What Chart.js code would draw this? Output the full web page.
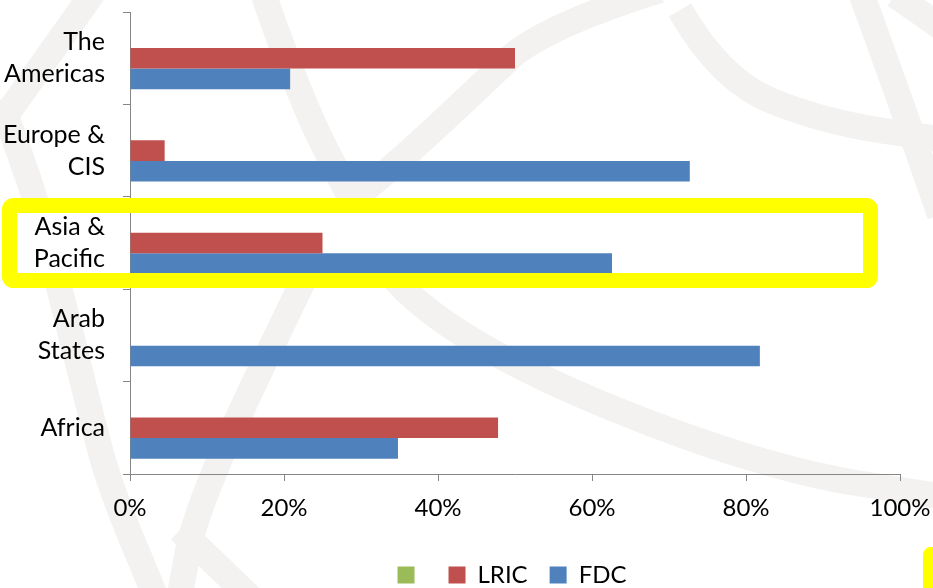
<!DOCTYPE html>
<html>
<head>
<meta charset="utf-8">
<script src="https://cdn.jsdelivr.net/npm/chart.js@4"></script>
<style>
  html, body { margin: 0; padding: 0; background: #fff; }
  #wrap { width: 933px; height: 588px; }
</style>
</head>
<body>
<div id="wrap"><canvas id="chart" width="933" height="588"></canvas></div>
<script>
const regions = [["The", "Americas"], ["Europe &", "CIS"], ["Asia &", "Pacific"], ["Arab", "States"], "Africa"]
const otherValues = [0, 0, 0, 0, 0]
const lricValues = [50, 4.5, 25, 0, 47.8]
const fdcValues = [20.8, 72.7, 62.6, 81.8, 34.8]
const xTicks = [0, 20, 40, 60, 80, 100]

const fontName = "Lato, 'Open Sans', sans-serif"

// faint watermark curves behind the chart
const waves = [
    [[262, -10], [300, 100], [352, 200], [392, 290], [536, 380], [774, 470], [945, 497]],
    [[660, -10], [542, 27], [473, 93], [401, 160], [340, 210], [298, 290], [196, 507], [179, 600]],
    [[0, 100], [33, 187], [60, 290], [90, 412], [110, 487], [157, 600]],
    [[95, -10], [0, 124]],
    [[180, 530], [253, 600]],
    [[680, 10], [720, 80], [824, 122], [945, 140]],
    [[860, -10], [900, 100], [940, 215]],
    [[895, -5], [945, 30]]
]

function smoothPath(ctx, pts) {
    ctx.beginPath()
    ctx.moveTo(pts[0][0], pts[0][1])
    if (pts.length === 2) {
        ctx.lineTo(pts[1][0], pts[1][1])
        return
    }
    for (let i = 1; i < pts.length - 1; i++) {
        const mx = (pts[i][0] + pts[i + 1][0]) / 2
        const my = (pts[i][1] + pts[i + 1][1]) / 2
        ctx.quadraticCurveTo(pts[i][0], pts[i][1], mx, my)
    }
    const last = pts[pts.length - 1]
    ctx.lineTo(last[0], last[1])
}

function roundRect(ctx, x, y, w, h, r) {
    ctx.beginPath()
    ctx.moveTo(x + r, y)
    ctx.arcTo(x + w, y, x + w, y + h, r)
    ctx.arcTo(x + w, y + h, x, y + h, r)
    ctx.arcTo(x, y + h, x, y, r)
    ctx.arcTo(x, y, x + w, y, r)
    ctx.closePath()
}

const highlightIndex = 2

const decor = {
    id: "decor",
    afterLayout(chart) {
        // legend sits roughly centred under the plot area, not the whole canvas
        const shift = (chart.chartArea.left + chart.chartArea.right) / 2 - (chart.legend.left + chart.legend.right) / 2 - 3
        chart.legend.left += shift
        chart.legend.right += shift
    },
    beforeDraw(chart) {
        const ctx = chart.ctx
        ctx.save()
        ctx.fillStyle = "#fff"
        ctx.fillRect(0, 0, chart.width, chart.height)
        ctx.strokeStyle = "#f3f2f1"
        ctx.lineWidth = 26
        ctx.lineJoin = "round"
        waves.forEach(w => { smoothPath(ctx, w); ctx.stroke() })
        // white inside of the highlight box
        const cy = chart.scales.y.getPixelForValue(highlightIndex)
        ctx.fillStyle = "#fff"
        ctx.fillRect(9, cy - 38, 862, 76)
        ctx.restore()
    },
    afterDraw(chart) {
        const ctx = chart.ctx
        const cy = chart.scales.y.getPixelForValue(highlightIndex)
        ctx.save()
        ctx.strokeStyle = "#ffff00"
        ctx.lineWidth = 15
        roundRect(ctx, 9.5, cy - 37.5, 861, 75, 4)
        ctx.stroke()
        // corner of another box at the bottom right
        ctx.fillStyle = "#ffff00"
        roundRect(ctx, 923, 547, 40, 60, 8)
        ctx.fill()
        ctx.restore()
    }
}

const ctx = document.getElementById("chart").getContext("2d")
new Chart(ctx, {
    type: "bar",
    data: {
        labels: regions,
        datasets: [
            { label: "", data: otherValues, backgroundColor: "#9BBB59" },
            { label: "LRIC", data: lricValues, backgroundColor: "#C0504D" },
            { label: "FDC", data: fdcValues, backgroundColor: "#4F81BD" }
        ]
    },
    options: {
        indexAxis: "y",
        responsive: false,
        animation: false,
        maintainAspectRatio: false,
        datasets: {
            bar: { categoryPercentage: 0.67, barPercentage: 1, borderWidth: 0 }
        },
        layout: { padding: { top: 12, right: 33, left: 0, bottom: -9 } },
        plugins: {
            tooltip: { enabled: false },
            legend: {
                position: "bottom",
                labels: {
                    color: "#000",
                    font: { family: fontName, size: 24 },
                    boxWidth: 17,
                    boxHeight: 17,
                    padding: 22
                }
            }
        },
        scales: {
            x: {
                min: 0,
                max: 100,
                afterBuildTicks: axis => { axis.ticks = xTicks.map(v => ({ value: v })) },
                afterFit: axis => {
                    axis.height = 67
                    axis.paddingLeft = 0
                    axis.paddingRight = 0
                },
                border: { color: "#868686", width: 1 },
                grid: { drawOnChartArea: false, color: "#868686", tickLength: 7 },
                ticks: {
                    color: "#000",
                    padding: 13,
                    maxRotation: 0,
                    font: { family: fontName, size: 24 },
                    callback: v => v + "%"
                }
            },
            y: {
                afterFit: axis => {
                    axis.width = 130
                    axis.paddingTop = 0
                    axis.paddingBottom = 0
                },
                border: { color: "#868686", width: 1 },
                grid: { drawOnChartArea: false, offset: true, color: "#868686", tickLength: 7 },
                ticks: {
                    color: "#000",
                    padding: 18,
                    font: { family: fontName, size: 25, lineHeight: 1.28 }
                }
            }
        }
    },
    plugins: [decor]
})
</script>
</body>
</html>
